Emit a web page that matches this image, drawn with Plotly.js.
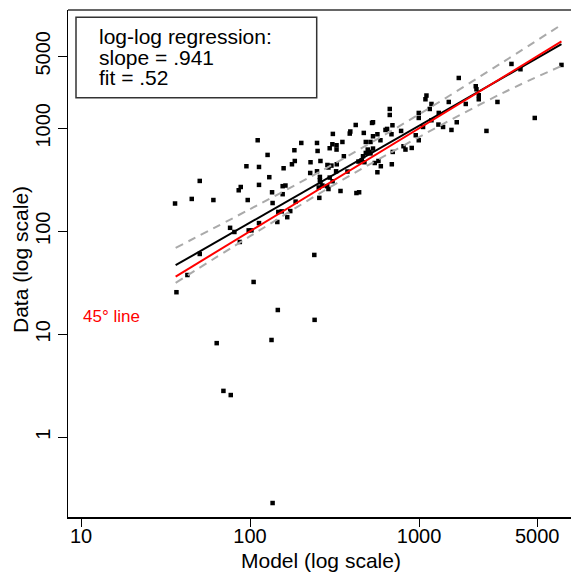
<!DOCTYPE html>
<html>
<head>
<meta charset="utf-8">
<script src="https://cdn.plot.ly/plotly-3.0.1.min.js"></script>
<style>html,body{margin:0;padding:0;background:#fff;}#chart{width:571px;height:578px;}</style>
</head>
<body>
<div id="chart"></div>
<script>
// Scatter data (Model, Data)
const modelVals = [36,36.7,42.6,45.2,50.4,50.4,60.7,63.5,69.6,76.2,76.9,80.8,85.7,87,88.1,95.2,96.9,98.2,102,105,
111,113,113,113,127,130,134,135,136,136,145,146,147,154,156,156,158,162,166,173,
177,183,184,186,201,227,228,240,241,249,249,251,255,257,259,259,261,261,268,286,
287,291,291,296,296,303,307,309,308,323,325,325,326,343,352,359,377,389,392,422,
426,438,442,458,466,471,475,484,484,497,506,516,527,534,534,534,516,547,567,567,
575,591,594,633,647,671,671,687,690,696,699,783,809,831,905,956,996,996,996,1056,
1091,1106,1157,1184,1184,1302,1308,1387,1499,1555,1671,1718,1890,2165,2186,2256,2256,2505,2910,3522,
3981,4837,6961];
const dataVals = [186,25.6,37.6,206,308,60.2,201,8.2,2.82,108,2.57,98.4,250,78.7,269,428,201,102,102,32.2,
765,421,282,120,551,335,8.8,239,188,0.23,123,17.2,154,156,274,229,409,278,137,157,
447,612,481,194,720,368,468,58.9,13.8,720,382,602,266,211,337,313,481,299,278,274,
440,416,257,640,332,434,699,881,306,382,684,621,447,246,736,535,380,888,930,1076,
235,475,239,489,535,901,468,736,576,621,589,736,1126,1144,836,635,570,460,875,374,
481,765,428,963,985,1539,1346,875,447,1069,589,942,669,621,644,855,1408,1259,765,1029,
1912,2078,1539,1721,1196,1086,1408,1029,1800,963,1144,3078,1721,2557,2391,2092,1912,942,1800,4211,
3740,1259,4118];

// Regression line and 45-degree line endpoints
const fitX = [36.3, 6960];
const fitY = [46.8, 6550];
const diagX = [36.3, 6960];
const diagY = [36.3, 6960];

// Confidence band
const bandX = [36.3, 100, 316, 1000, 3162, 7080];
const bandUpper = [69, 164, 454, 1365, 4430, 10300];
const bandLower = [31.6, 89.5, 284, 822, 2220, 4070];

// Axis ticks
const xTicks = [10, 100, 1000, 5000];
const yTicks = [1, 10, 100, 1000, 5000];

const FONT = '"Liberation Sans", Arial, sans-serif';
const L = 68, T = 10, W = 571, H = 578, B = 61;
const pw = W - L, ph = H - T - B;
const px = v => (v - L) / pw;
const py = v => (H - B - v) / ph;

const traces = [
  {x: modelVals, y: dataVals, type: 'scatter', mode: 'markers',
   marker: {symbol: 'square', size: 4.5, color: '#000', line: {width: 0}}},
  {x: bandX, y: bandUpper, type: 'scatter', mode: 'lines',
   line: {color: '#aaaaaa', width: 2, dash: '8px,6px', shape: 'spline'}},
  {x: bandX, y: bandLower, type: 'scatter', mode: 'lines',
   line: {color: '#aaaaaa', width: 2, dash: '8px,6px', shape: 'spline'}},
  {x: fitX, y: fitY, type: 'scatter', mode: 'lines', line: {color: '#000', width: 2}},
  {x: diagX, y: diagY, type: 'scatter', mode: 'lines', line: {color: '#ff0000', width: 2}}
];

const layout = {
  width: W, height: H,
  margin: {l: L, r: 0, t: T, b: B, pad: 0},
  paper_bgcolor: '#fff', plot_bgcolor: '#fff',
  showlegend: false,
  font: {family: FONT, size: 20, color: '#000'},
  xaxis: {type: 'log', range: [0.923, 3.899], tickvals: xTicks, ticktext: xTicks.map(String),
    ticks: 'outside', ticklen: 8, tickwidth: 1, tickcolor: '#000', ticklabelstandoff: -8,
    showline: true, linecolor: '#000', linewidth: 1.5, showgrid: false, zeroline: false,
    tickfont: {family: FONT, size: 20, color: '#000'}},
  yaxis: {type: 'log', range: [-0.774, 4.148], tickvals: yTicks, ticktext: yTicks.map(String),
    ticks: 'outside', ticklen: 9, tickwidth: 1, tickcolor: '#000', tickangle: -90,
    showline: true, linecolor: '#000', linewidth: 1.5, showgrid: false, zeroline: false,
    tickfont: {family: FONT, size: 20, color: '#000'}},
  shapes: [
    {type: 'line', xref: 'paper', yref: 'paper', x0: 0, x1: 1, y0: 1, y1: 1,
     line: {color: '#333', width: 1.5}},
    {type: 'rect', xref: 'paper', yref: 'paper', x0: px(76), x1: px(316.7), y0: py(97.7), y1: py(17.3),
     line: {color: '#333', width: 1.5}, fillcolor: 'rgba(0,0,0,0)'}
  ],
  annotations: [
    {text: 'log-log regression:', xref: 'paper', yref: 'paper', x: px(96.5), y: py(36), xanchor: 'left', yanchor: 'middle',
     showarrow: false, font: {family: FONT, size: 21, color: '#000'}},
    {text: 'slope = .941', xref: 'paper', yref: 'paper', x: px(96.5), y: py(57), xanchor: 'left', yanchor: 'middle',
     showarrow: false, font: {family: FONT, size: 21, color: '#000'}},
    {text: 'fit = .52', xref: 'paper', yref: 'paper', x: px(96.5), y: py(77.7), xanchor: 'left', yanchor: 'middle',
     showarrow: false, font: {family: FONT, size: 21, color: '#000'}},
    {text: '45° line', xref: 'paper', yref: 'paper', x: px(81), y: py(316), xanchor: 'left', yanchor: 'middle',
     showarrow: false, font: {family: FONT, size: 17, color: '#ff0000'}},
    {text: 'Model (log scale)', xref: 'paper', yref: 'paper', x: px(321.3), y: py(560), xanchor: 'center', yanchor: 'middle',
     showarrow: false, font: {family: FONT, size: 21, color: '#000'}},
    {text: 'Data (log scale)', xref: 'paper', yref: 'paper', x: px(20), y: py(260), xanchor: 'center', yanchor: 'middle',
     textangle: -90, showarrow: false, font: {family: FONT, size: 21, color: '#000'}}
  ]
};

Plotly.newPlot('chart', traces, layout, {staticPlot: true, displayModeBar: false});
</script>
</body>
</html>
